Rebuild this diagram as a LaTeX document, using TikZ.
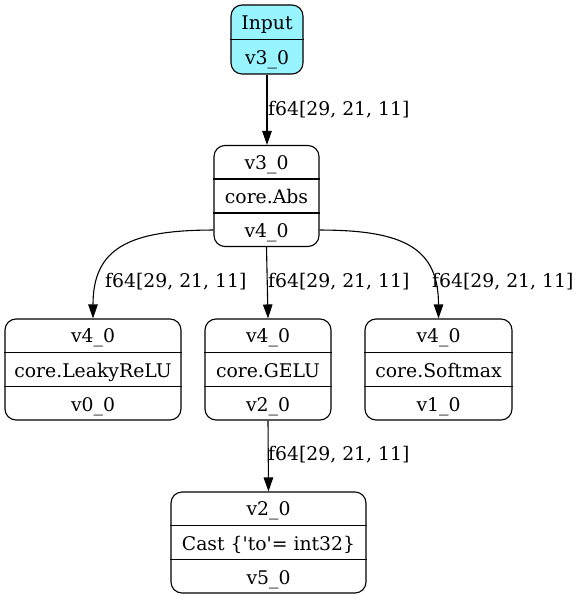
\documentclass[tikz,border=0pt]{standalone}
\usepackage{fontspec}
\setmainfont{DejaVu Serif}
\usetikzlibrary{arrows.meta,calc}
\definecolor{inputcyan}{HTML}{98F5FF}
\tikzset{
  recbox/.style={draw, rounded corners=11pt, line width=1.1pt, inner sep=0pt},
  rowtext/.style={font=\fontsize{18.8}{21}\selectfont, inner sep=0pt, anchor=base, yshift=-7.5pt},
  edgelbl/.style={font=\fontsize{18.8}{21}\selectfont, anchor=base west, inner sep=0pt},
  divider/.style={line width=1.1pt},
  conn/.style={draw, line width=1.1pt, -{Triangle[length=14pt,width=9.5pt]}},
}
\newcommand{\mythreerow}[7]{%
  \node[recbox, minimum width=#4pt, minimum height=101pt] (#1) at (#2,#3) {};
  \draw[divider] ($(#1.north west)!1/3!(#1.south west)$) -- ($(#1.north east)!1/3!(#1.south east)$);
  \draw[divider] ($(#1.north west)!2/3!(#1.south west)$) -- ($(#1.north east)!2/3!(#1.south east)$);
  \node[rowtext] (#1-a) at ($(#1.north)!1/6!(#1.south)$) {#5};
  \node[rowtext] (#1-b) at ($(#1.north)!3/6!(#1.south)$) {#6};
  \node[rowtext] (#1-c) at ($(#1.north)!5/6!(#1.south)$) {#7};
}
\begin{document}
\begin{tikzpicture}[x=1pt,y=-1pt]
\useasboundingbox (0,0) rectangle (581,601);
% input node
\node[recbox, fill=inputcyan, minimum width=72pt, minimum height=69pt] (in) at (267,39.5) {};
\draw[divider] (in.west) -- (in.east);
\node[rowtext] (in-a) at ($(in.north)!1/4!(in.south)$) {Input};
\node[rowtext] (in-b) at ($(in.north)!3/4!(in.south)$) {v3\_0};
% others
\mythreerow{abs}{266.5}{196}{105}{v3\_0}{core.Abs}{v4\_0}
\mythreerow{leaky}{93}{369.5}{176}{v4\_0}{core.LeakyReLU}{v0\_0}
\mythreerow{gelu}{268}{369.5}{126}{v4\_0}{core.GELU}{v2\_0}
\mythreerow{soft}{438.5}{369.5}{147}{v4\_0}{core.Softmax}{v1\_0}
\mythreerow{cast}{268.5}{542.5}{195}{v2\_0}{Cast \{\textquotesingle to\textquotesingle= int32\}}{v5\_0}
% connectors
\coordinate (absL) at ($(abs.south west)!1/6!(abs.north west)$);
\coordinate (absR) at ($(abs.south east)!1/6!(abs.north east)$);
\draw[conn] (in.south) -- (in.south |- abs.north);
\draw[conn] (absL) .. controls +(-85,0) and +(0,-70) .. (leaky.north);
\draw[conn] (abs.south) -- (gelu.north);
\draw[conn] (absR) .. controls +(85,0) and +(0,-70) .. (soft.north);
\draw[conn] (gelu.south) -- (cast.north);
% labels
\node[edgelbl] (l1) at (268,115.5) {f64[29, 21, 11]};
\node[edgelbl] (l2) at (105,287.5) {f64[29, 21, 11]};
\node[edgelbl] (l3) at (268,287.5) {f64[29, 21, 11]};
\node[edgelbl] (l4) at (432,287.5) {f64[29, 21, 11]};
\node[edgelbl] (l5) at (268,460.5) {f64[29, 21, 11]};
\end{tikzpicture}
\end{document}
